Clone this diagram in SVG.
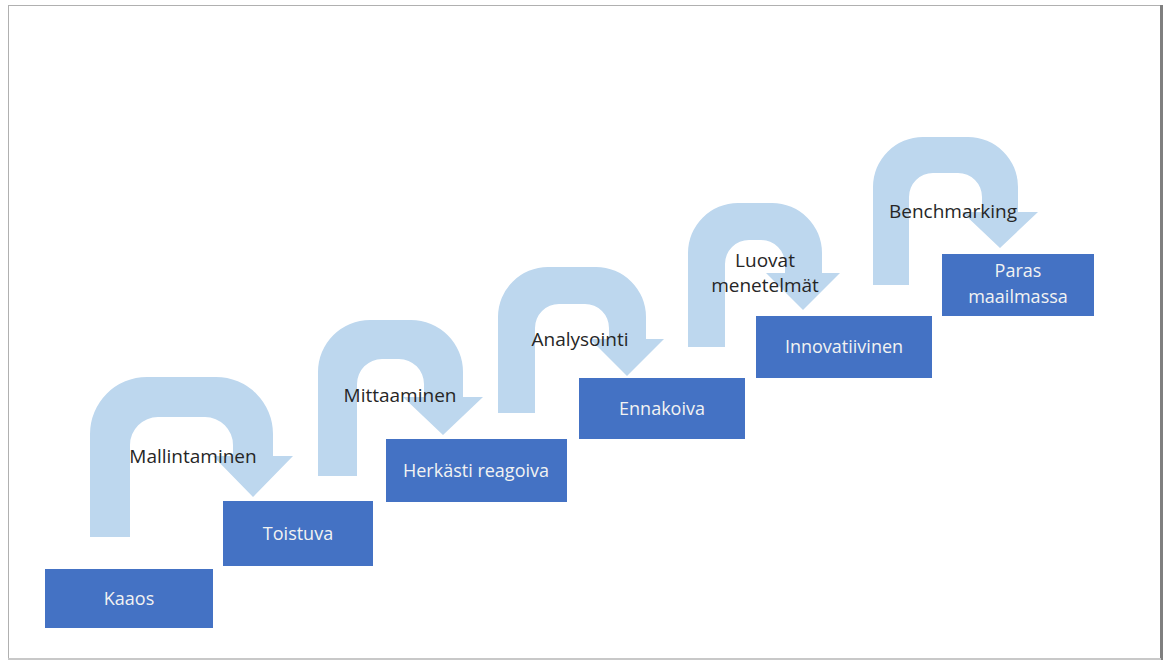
<svg xmlns="http://www.w3.org/2000/svg" width="1168" height="661" viewBox="0 0 1168 661">
<style>
.arrow{fill:#BDD7EE;}
.box{fill:#4472C4;}
.bt{font-family:"Open Sans","Liberation Sans",sans-serif;font-size:18px;fill:#F2F2F2;text-anchor:middle;}
.lbl{font-family:"Open Sans","Liberation Sans",sans-serif;font-size:19px;fill:#262626;text-anchor:middle;}
</style>
<rect x="0" y="0" width="1168" height="661" fill="#FFFFFF"/>
<rect x="8.5" y="5.5" width="1152" height="653" fill="#FFFFFF" stroke="#B0B0B0" stroke-width="1"/>
<rect x="1160" y="5" width="3" height="655" fill="#7F7F7F"/>
<rect x="8" y="658" width="1153" height="2" fill="#C8C8C8"/>
<g id="connectors">
<path class="arrow" d="M90,537 V434 A57,57 0 0 1 147,377 H216 A57,57 0 0 1 273,434 V456 H293 L253,497 L213,456 H233 V445 A28,28 0 0 0 205,417 H158 A28,28 0 0 0 130,445 V537 Z"/>
<path class="arrow" d="M318,476 V372 A52,52 0 0 1 370,320 H411 A52,52 0 0 1 463,372 V397 H483 L443,435 L403,397 H424 V384 A25,25 0 0 0 399,359 H382 A25,25 0 0 0 357,384 V476 Z"/>
<path class="arrow" d="M498,413 V317 A50,50 0 0 1 548,267 H596 A50,50 0 0 1 646,317 V339 H664 L627,376 L590,339 H609 V328 A24,24 0 0 0 585,304 H559 A24,24 0 0 0 535,328 V413 Z"/>
<path class="arrow" d="M688,347 V253 A50,50 0 0 1 738,203 H772 A50,50 0 0 1 822,253 V273 H840 L803,310 L766,273 H785 V264 A24,24 0 0 0 761,240 H749 A24,24 0 0 0 725,264 V347 Z"/>
<path class="arrow" d="M873,285 V187 A50,50 0 0 1 923,137 H968 A50,50 0 0 1 1018,187 V212 H1038 L1000,248 L962,212 H982 V197 A24,24 0 0 0 958,173 H933 A24,24 0 0 0 909,197 V285 Z"/>
</g>
<g id="label-mallintaminen"><text class="lbl" x="193" y="463">Mallintaminen</text></g>
<g id="label-mittaaminen"><text class="lbl" x="400" y="402">Mittaaminen</text></g>
<g id="label-analysointi"><text class="lbl" x="580" y="346">Analysointi</text></g>
<g id="label-luovat"><text class="lbl" x="765" y="267">Luovat</text><text class="lbl" x="765" y="292">menetelmät</text></g>
<g id="label-benchmarking"><text class="lbl" x="953" y="218">Benchmarking</text></g>
<g id="node-kaaos"><rect class="box" x="45" y="569" width="168" height="59"/><text class="bt" x="129" y="605">Kaaos</text></g>
<g id="node-toistuva"><rect class="box" x="223" y="501" width="150" height="65"/><text class="bt" x="298" y="540">Toistuva</text></g>
<g id="node-herkasti"><rect class="box" x="386" y="439" width="181" height="63"/><text class="bt" x="476" y="477">Herkästi reagoiva</text></g>
<g id="node-ennakoiva"><rect class="box" x="579" y="378" width="166" height="61"/><text class="bt" x="662" y="415">Ennakoiva</text></g>
<g id="node-innovatiivinen"><rect class="box" x="756" y="316" width="176" height="62"/><text class="bt" x="844" y="353">Innovatiivinen</text></g>
<g id="node-paras"><rect class="box" x="942" y="254" width="152" height="62"/><text class="bt" x="1018" y="277">Paras</text><text class="bt" x="1018" y="303">maailmassa</text></g>
</svg>
